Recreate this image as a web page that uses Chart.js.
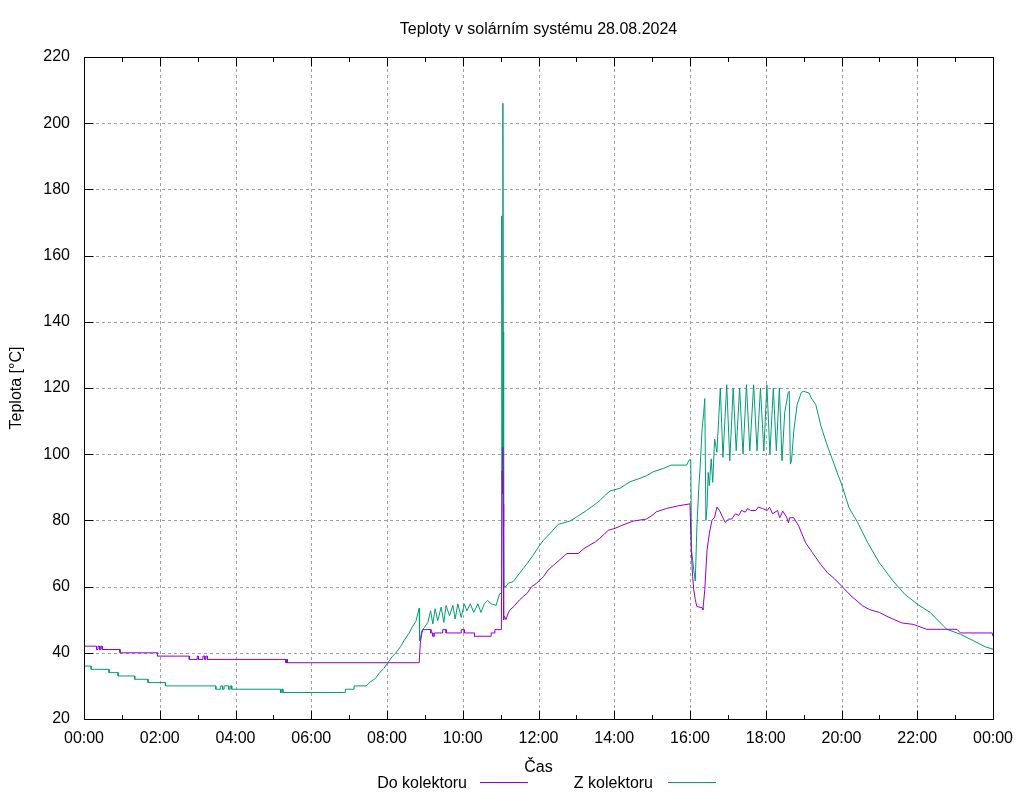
<!DOCTYPE html>
<html>
<head>
<meta charset="utf-8">
<script src="https://cdn.jsdelivr.net/npm/chart.js@4/dist/chart.umd.min.js"></script>
<style>
html,body{margin:0;padding:0;background:#fff;}
canvas{display:block;}
</style>
</head>
<body>
<canvas id="c" width="1024" height="800"></canvas>
<script>
// ---- DATA ----
const chartTitle = "Teploty v solárním systému 28.08.2024";
const xTitle = "Čas";
const yTitle = "Teplota [°C]";
const seriesNames = ["Do kolektoru", "Z kolektoru"];
const seriesColors = ["#9400d3", "#009e73"];

// hours of day
const doTime = [0,0.33,0.33,0.37,0.37,0.41,0.41,0.44,0.44,0.48,0.48,0.95,0.95,1.94,1.94,2.78,2.78,2.99,2.99,3.02,3.02,3.14,3.14,3.19,3.19,3.22,3.22,3.26,3.26,5.33,5.33,5.35,5.35,5.37,5.37,8.85,8.88,8.92,8.95,9.16,9.16,9.21,9.21,9.25,9.25,9.47,9.47,9.56,9.56,9.96,9.96,10.04,10.04,10.31,10.31,10.75,10.75,10.85,10.85,11.02,11.04,11.05,11.06,11.07,11.08,11.1,11.14,11.2,11.25,11.35,11.5,11.6,11.7,11.82,11.95,12.13,12.25,12.4,12.55,12.75,13.05,13.2,13.36,13.5,13.62,13.75,13.84,14.02,14.2,14.5,14.85,15.0,15.11,15.38,15.69,16.0,16.01,16.03,16.07,16.1,16.14,16.18,16.32,16.34,16.39,16.45,16.51,16.58,16.65,16.71,16.78,16.86,16.93,17.02,17.1,17.2,17.29,17.36,17.46,17.52,17.6,17.74,17.8,17.91,18.04,18.1,18.18,18.31,18.37,18.45,18.55,18.6,18.63,18.74,18.87,19.05,19.23,19.45,19.63,19.8,20.0,20.25,20.56,20.75,21.0,21.2,21.36,21.6,21.89,22.25,23.05,23.14,23.98,24];
const doTemp = [42,42,41,41,42,42,41,41,42,42,41,41,40,40,39,39,38,38,39,39,38,38,39,39,38,38,39,39,38,38,37,37,38,38,37,37,43,46,47,47,46,46,45,45,46,46,47,47,46,46,47,47,46,46,45,45,46,46,47,47,95,88,102,85,50,51,50,52,53,54,56,57,58,60,61,63,65,66.5,68,70,70,71.5,72.6,73.5,74.6,76,77,77.6,78.5,79.8,80.4,81.5,82.6,83.6,84.4,85,85,72,63,59,56,54,53.6,53,59,71,76,80,81,84,83,81,79.4,80.4,80.4,82,81.5,83,82.5,83.6,83,83,84,83.6,83,84,82,83,80.8,82.8,81,79.3,80.8,80.8,78.3,73.3,70.3,66.7,64.2,62.5,60.2,57.2,54.2,53,52.2,51,50.2,49,48.6,47.1,47.1,46,46,45];

const zTime = [0,0.19,0.19,0.66,0.66,0.9,0.9,1.34,1.34,1.69,1.69,2.15,2.15,3.48,3.48,3.61,3.61,3.66,3.66,3.70,3.70,3.82,3.82,3.86,3.86,3.9,3.9,5.19,5.19,5.22,5.22,5.25,5.25,6.9,6.9,7.13,7.13,7.44,7.48,7.57,7.7,7.79,7.92,8.01,8.14,8.23,8.36,8.45,8.58,8.67,8.76,8.85,8.86,8.88,8.92,8.99,9.08,9.15,9.21,9.27,9.34,9.43,9.5,9.56,9.65,9.74,9.8,9.87,9.96,10.04,10.11,10.2,10.29,10.4,10.48,10.57,10.66,10.75,10.88,10.97,11.02,11.03,11.05,11.06,11.07,11.08,11.09,11.14,11.2,11.33,11.5,11.6,11.7,11.86,12.0,12.13,12.3,12.52,12.83,13.0,13.27,13.45,13.62,13.75,13.89,14.15,14.42,14.68,14.85,15.03,15.3,15.5,15.91,15.98,16.02,16.04,16.1,16.14,16.18,16.23,16.27,16.32,16.36,16.39,16.42,16.45,16.48,16.51,16.56,16.6,16.65,16.71,16.8,16.87,16.97,17.05,17.14,17.22,17.31,17.4,17.49,17.58,17.68,17.77,17.86,17.95,18.03,18.11,18.2,18.28,18.36,18.43,18.5,18.59,18.62,18.65,18.68,18.74,18.83,18.94,19.0,19.14,19.2,19.32,19.46,19.63,19.76,19.9,20.0,20.2,20.43,20.69,21.0,21.36,21.67,22.0,22.34,22.78,23.14,23.49,23.8,24.0];
const zTemp = [36,36,35,35,34,34,33,33,32,32,31,31,30,30,29,29,30,30,29,29,30,30,29,29,30,30,29,29,28,28,29,29,28,28,29,29,30,30,30.3,31.3,32.3,33.8,35.3,36.8,38.9,39.9,41.9,43.7,45.9,47.9,49.4,53.5,43.7,44,46.7,47.7,49.2,52.7,48.7,53.3,49.7,53.8,49.2,54.3,51.2,54.3,50.2,54.8,50.7,54.8,52.7,54.8,52.2,54.8,52.2,54.8,55.8,54.8,54.3,57.8,58,172,100,206,137,78,60,60,61,61.5,64,65.5,67,69.5,72,74,76,78.8,79.8,81,83,84.5,86,87.5,88.9,89.7,91.7,92.7,93.5,94.7,95.7,96.7,96.7,98.3,98.3,71,65,61.7,77.4,89.5,96.6,107.7,112.2,116.8,80,84,94.5,90.5,98.6,91.5,104.6,100.6,120,99,121,98,120,101,120,100,121,101,121,101,120,101,121,100,120,101,120,98,112.5,118.5,119,97,98,107,115,118.7,119,118.5,117,115,108.4,102.4,98.4,94,91,83.8,79.3,73.3,67.2,61.7,57.7,54.7,52.2,47.1,45.6,43.6,41.8,41.1];

const xMin = 0, xMax = 24, xStep = 1;
const yMin = 20, yMax = 220, yStep = 20;

// ---- CHART ----
const FONT = "'Liberation Sans', Arial, sans-serif";
const toPts = (t, v) => t.map((x, i) => ({x: x, y: v[i]}));
const fmtHour = h => String(h % 24).padStart(2, '0') + ':00';

const gnuplotDecor = {
  id: 'gnuplotDecor',
  beforeDatasetsDraw(chart) {
    const {ctx, chartArea: a, scales: {x, y}} = chart;
    ctx.save();
    ctx.strokeStyle = '#a0a0a0';
    ctx.lineWidth = 1;
    ctx.setLineDash([3, 3]);
    for (let h = xMin + 2; h < xMax; h += 2) {
      const px = Math.round(x.getPixelForValue(h)) + 0.5;
      ctx.beginPath(); ctx.moveTo(px, a.top); ctx.lineTo(px, a.bottom); ctx.stroke();
    }
    for (let v = yMin + yStep; v < yMax; v += yStep) {
      const py = Math.round(y.getPixelForValue(v)) + 0.5;
      ctx.beginPath(); ctx.moveTo(a.left, py); ctx.lineTo(a.right, py); ctx.stroke();
    }
    ctx.restore();
  },
  afterDatasetsDraw(chart) {
    const {ctx, chartArea: a, scales: {x, y}} = chart;
    ctx.save();
    ctx.strokeStyle = '#000';
    ctx.lineWidth = 1;
    ctx.setLineDash([]);
    const L = Math.round(a.left) + 0.5, R = Math.round(a.right) + 0.5;
    const T = Math.round(a.top) + 0.5, B = Math.round(a.bottom) + 0.5;
    ctx.strokeRect(L, T, R - L, B - T);
    ctx.beginPath();
    for (let v = yMin; v <= yMax; v += yStep) {
      const py = Math.round(y.getPixelForValue(v)) + 0.5;
      ctx.moveTo(L, py); ctx.lineTo(L + 9, py);
      ctx.moveTo(R, py); ctx.lineTo(R - 9, py);
    }
    for (let h = xMin; h <= xMax; h += xStep) {
      const px = Math.round(x.getPixelForValue(h)) + 0.5;
      const len = (h % 2 === 0) ? 9 : 4.5;
      ctx.moveTo(px, B); ctx.lineTo(px, B - len);
      ctx.moveTo(px, T); ctx.lineTo(px, T + len);
    }
    ctx.stroke();
    ctx.restore();
  },
  afterDraw(chart) {
    const {ctx, chartArea: a} = chart;
    ctx.save();
    ctx.fillStyle = '#000';
    ctx.font = '16px ' + FONT;
    ctx.textBaseline = 'middle';
    ctx.textAlign = 'center';
    ctx.fillText(chartTitle, (a.left + a.right) / 2, 30);
    ctx.fillText(xTitle, (a.left + a.right) / 2, 768);
    ctx.save();
    ctx.translate(17, (a.top + a.bottom) / 2);
    ctx.rotate(-Math.PI / 2);
    ctx.fillText(yTitle, 0, 0);
    ctx.restore();
    // legend (gnuplot style: text, then line sample)
    const legendY = 784;
    const items = [{textRight: 467, lineX: 480}, {textRight: 653, lineX: 668}];
    items.forEach((it, i) => {
      ctx.textAlign = 'right';
      ctx.fillStyle = '#000';
      ctx.fillText(seriesNames[i], it.textRight, legendY);
      ctx.strokeStyle = seriesColors[i];
      ctx.lineWidth = 1;
      ctx.beginPath();
      ctx.moveTo(it.lineX, legendY - 1.5);
      ctx.lineTo(it.lineX + 48, legendY - 1.5);
      ctx.stroke();
    });
    ctx.restore();
  }
};

new Chart(document.getElementById('c'), {
  type: 'scatter',
  data: {
    datasets: [
      {label: seriesNames[0], data: toPts(doTime, doTemp), borderColor: seriesColors[0], backgroundColor: seriesColors[0], showLine: true, pointRadius: 0, borderWidth: 1, tension: 0},
      {label: seriesNames[1], data: toPts(zTime, zTemp), borderColor: seriesColors[1], backgroundColor: seriesColors[1], showLine: true, pointRadius: 0, borderWidth: 1, tension: 0}
    ]
  },
  options: {
    responsive: false,
    animation: false,
    devicePixelRatio: 1,
    layout: {padding: {top: 57, right: 31, bottom: 51, left: 0}},
    plugins: {legend: {display: false}, title: {display: false}, tooltip: {enabled: false}},
    scales: {
      x: {
        type: 'linear', min: xMin, max: xMax,
        grid: {display: false, drawTicks: false},
        border: {display: false},
        ticks: {
          stepSize: xStep, autoSkip: false, maxRotation: 0, minRotation: 0,
          color: '#000', font: {family: FONT, size: 16}, padding: 10,
          callback: v => (v % 2 === 0 ? fmtHour(v) : '')
        },
        afterFit: s => { s.height = 30; }
      },
      y: {
        min: yMin, max: yMax,
        grid: {display: false, drawTicks: false},
        border: {display: false},
        ticks: {stepSize: yStep, color: '#000', font: {family: FONT, size: 16}, padding: 14},
        afterFit: s => { s.width = 84; }
      }
    }
  },
  plugins: [gnuplotDecor]
});
</script>
</body>
</html>
